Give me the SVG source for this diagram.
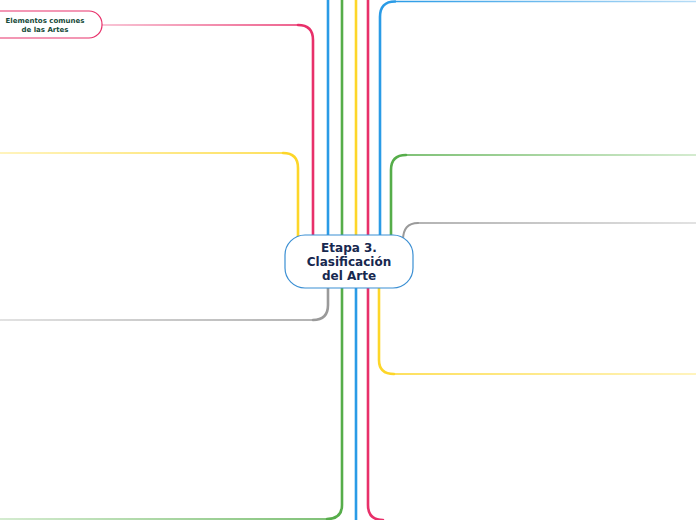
<svg xmlns="http://www.w3.org/2000/svg" width="696" height="520" viewBox="0 0 696 520">
<style>
.c{fill:none;stroke-linecap:round}
.v{stroke-width:2.6}
.h{stroke-width:1.4}
.pk{stroke:#e8306a}.bl{stroke:#2a9be6}.gr{stroke:#56ad4a}.ye{stroke:#fdd629}.gy{stroke:#9a9a9a}
.t1{font-family:"DejaVu Sans",Verdana,sans-serif;font-weight:bold;font-size:12px;fill:#17284f;text-anchor:middle}
.t2{font-family:"DejaVu Sans",Verdana,sans-serif;font-weight:bold;font-size:7px;fill:#174a38;text-anchor:middle}
</style>
<defs>
<linearGradient id="gPkL" gradientUnits="userSpaceOnUse" x1="300" y1="0" x2="100" y2="0"><stop offset="0" stop-color="#e8306a"/><stop offset="1" stop-color="#f7b3c9"/></linearGradient>
<linearGradient id="gYeL" gradientUnits="userSpaceOnUse" x1="285" y1="0" x2="0" y2="0"><stop offset="0" stop-color="#fdd629"/><stop offset="1" stop-color="#fff0a8"/></linearGradient>
<linearGradient id="gGyL" gradientUnits="userSpaceOnUse" x1="315" y1="0" x2="0" y2="0"><stop offset="0" stop-color="#9a9a9a"/><stop offset="1" stop-color="#d8d8d8"/></linearGradient>
<linearGradient id="gGrL" gradientUnits="userSpaceOnUse" x1="330" y1="0" x2="0" y2="0"><stop offset="0" stop-color="#56ad4a"/><stop offset="1" stop-color="#c6e5c0"/></linearGradient>
<linearGradient id="gBlR" gradientUnits="userSpaceOnUse" x1="393" y1="0" x2="696" y2="0"><stop offset="0" stop-color="#2a9be6"/><stop offset="1" stop-color="#b6dcf6"/></linearGradient>
<linearGradient id="gGrR" gradientUnits="userSpaceOnUse" x1="404" y1="0" x2="696" y2="0"><stop offset="0" stop-color="#56ad4a"/><stop offset="1" stop-color="#c6e5c0"/></linearGradient>
<linearGradient id="gGyR" gradientUnits="userSpaceOnUse" x1="415" y1="0" x2="696" y2="0"><stop offset="0" stop-color="#9a9a9a"/><stop offset="1" stop-color="#d8d8d8"/></linearGradient>
<linearGradient id="gYeR" gradientUnits="userSpaceOnUse" x1="392" y1="0" x2="696" y2="0"><stop offset="0" stop-color="#fdd629"/><stop offset="1" stop-color="#fff0a8"/></linearGradient>
</defs>
<g id="connectors">
<path class="c v pk" d="M313,240 V40 Q313,25 298,25"/>
<path class="c h" stroke="url(#gPkL)" d="M298,25 H102"/>
<path class="c v ye" d="M298,240 V168 Q298,153 283,153"/>
<path class="c h" stroke="url(#gYeL)" d="M283,153 H0"/>
<path class="c v gy" d="M328,285 V305 Q328,320 313,320"/>
<path class="c h" stroke="url(#gGyL)" d="M313,320 H0"/>
<path class="c v gr" d="M342,285 V505 Q342,519 327,519"/>
<path class="c h" stroke="url(#gGrL)" d="M327,519 H0"/>
<path class="c v bl" d="M328,240 V0"/>
<path class="c v gr" d="M342,240 V0"/>
<path class="c v ye" d="M356,240 V0"/>
<path class="c v pk" d="M368,240 V0"/>
<path class="c v bl" d="M380,240 V17 Q380,1.5 395,1.5"/>
<path class="c h" stroke="url(#gBlR)" d="M395,1.5 H696"/>
<path class="c v gr" d="M391,240 V170 Q391,155 406,155"/>
<path class="c h" stroke="url(#gGrR)" d="M406,155 H696"/>
<path class="c v gy" style="stroke-width:2" d="M403,240 Q403,223 418,223"/>
<path class="c h" stroke="url(#gGyR)" d="M418,223 H696"/>
<path class="c v bl" d="M356,285 V520"/>
<path class="c v pk" d="M368,285 V505 Q368,520 383,520"/>
<path class="c v ye" d="M379,285 V360 Q379,374 394,374"/>
<path class="c h" stroke="url(#gYeR)" d="M394,374 H696"/>
</g>
<g id="node-center">
<rect x="285" y="235" width="128" height="53" rx="20" fill="#ffffff" stroke="#3b8fd3" stroke-width="1.2"/>
<text class="t1" x="349" y="252">Etapa 3.</text>
<text class="t1" x="349" y="266">Clasificación</text>
<text class="t1" x="349" y="280">del Arte</text>
</g>
<g id="node-elementos">
<rect x="-20" y="11" width="122" height="27" rx="13" fill="#ffffff" stroke="#e8306a" stroke-width="1.2"/>
<text class="t2" x="45" y="23">Elementos comunes</text>
<text class="t2" x="45" y="32">de las Artes</text>
</g>
</svg>
